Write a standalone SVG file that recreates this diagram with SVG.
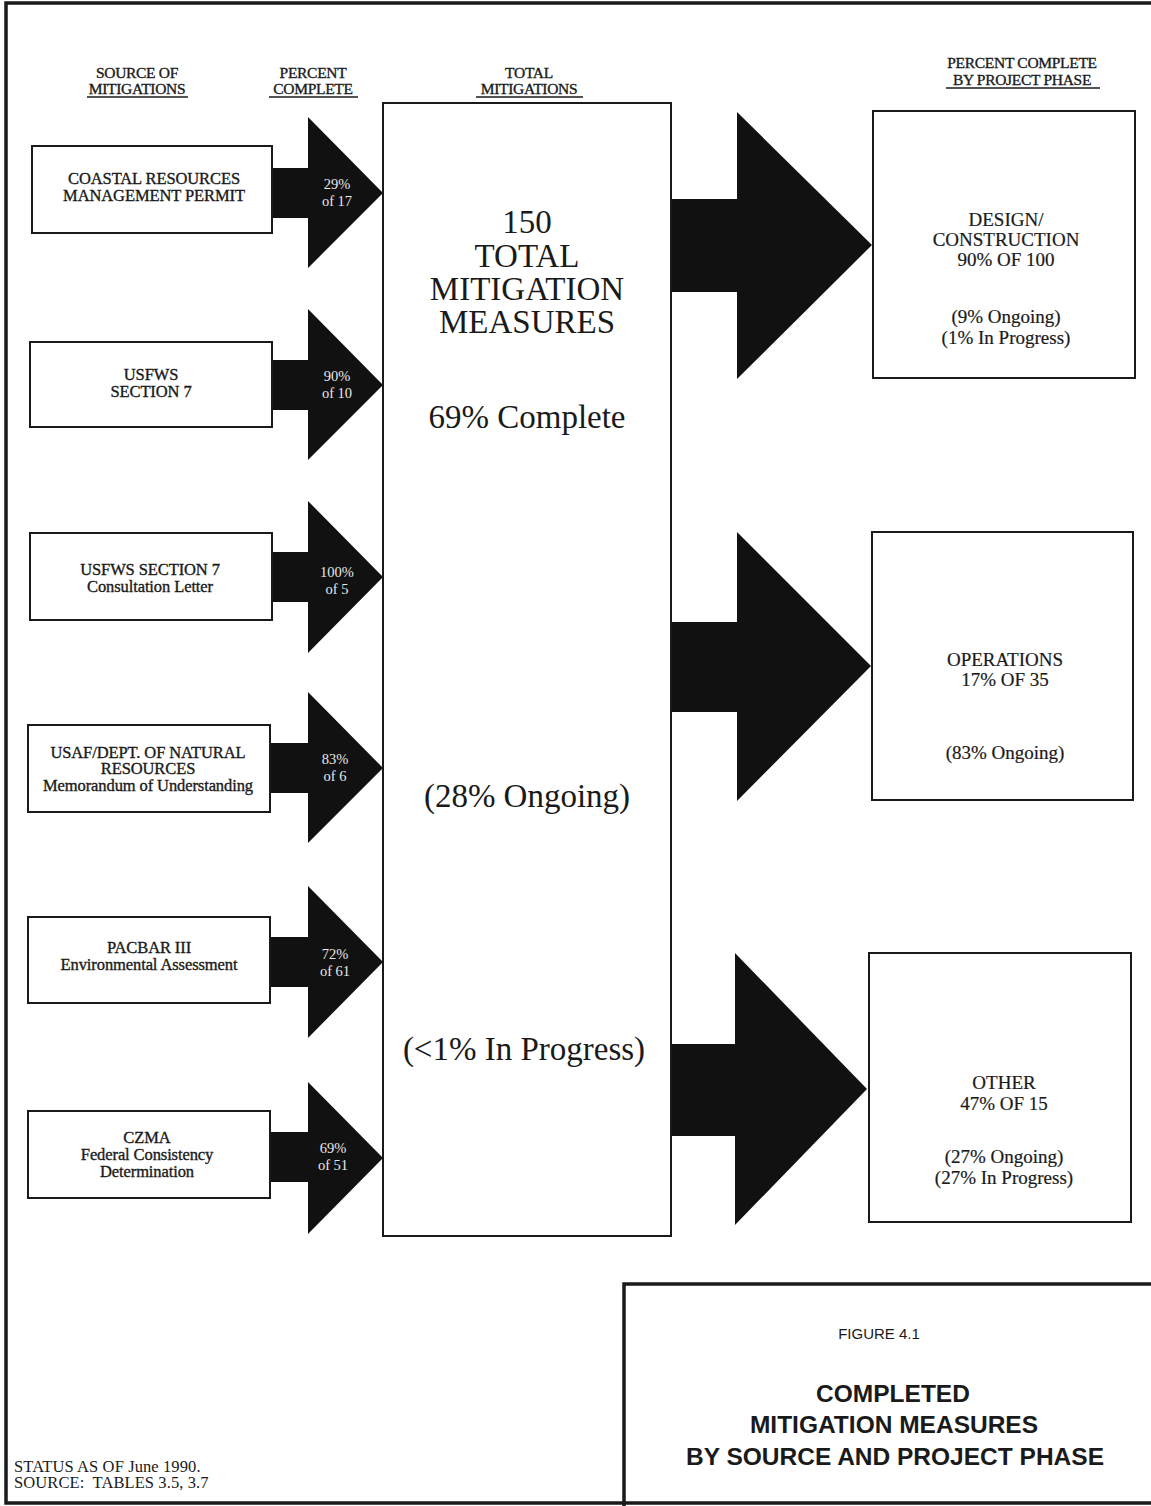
<svg xmlns="http://www.w3.org/2000/svg" width="1151" height="1506" viewBox="0 0 1151 1506">
<style>
.bg{fill:#ffffff}
.frame{fill:none;stroke:#1a1a1a;stroke-width:3.5}
.box{fill:#ffffff;stroke:#1a1a1a;stroke-width:2}
.arrow{fill:#111111;stroke:none}
.t{font-family:"Liberation Serif","Times New Roman",serif;fill:#1a1a1a;text-anchor:middle}
.hd{font-size:15.5px;letter-spacing:-0.3px;stroke:#1a1a1a;stroke-width:0.35px}
.src{font-size:16.5px;letter-spacing:-0.1px;stroke:#1a1a1a;stroke-width:0.35px}
.pct{font-size:14.5px;fill:#e8e8e8}
.big{font-size:33px}
.ph{font-size:19px;stroke:#1a1a1a;stroke-width:0.2px}
.ul{stroke:#1a1a1a;stroke-width:1.5}
.fig{font-family:"Liberation Sans",Arial,sans-serif;fill:#1a1a1a;text-anchor:middle}
.note{font-family:"Liberation Serif","Times New Roman",serif;fill:#1a1a1a;font-size:16.5px;letter-spacing:0.1px;white-space:pre}
</style>
<rect class="bg" x="0" y="0" width="1151" height="1506"/>
<rect class="frame" x="6" y="3" width="1170" height="1500"/>

<g id="headers">
<text class="t hd" x="137" y="78">SOURCE OF</text>
<text class="t hd" x="137" y="94">MITIGATIONS</text>
<line class="ul" x1="87" y1="97" x2="188" y2="97"/>
<text class="t hd" x="313" y="78">PERCENT</text>
<text class="t hd" x="313" y="94">COMPLETE</text>
<line class="ul" x1="269" y1="97" x2="358" y2="97"/>
<text class="t hd" x="529" y="78">TOTAL</text>
<text class="t hd" x="529" y="94">MITIGATIONS</text>
<line class="ul" x1="476" y1="97" x2="583" y2="97"/>
<text class="t hd" x="1022" y="68">PERCENT COMPLETE</text>
<text class="t hd" x="1022" y="85">BY PROJECT PHASE</text>
<line class="ul" x1="946" y1="88" x2="1100" y2="88"/>
</g>

<g id="connectors">
<polygon class="arrow" points="271,168 308,168 308,117 383,193 308,268 308,218 271,218"/>
<polygon class="arrow" points="271,360 308,360 308,309 383,385 308,460 308,410 271,410"/>
<polygon class="arrow" points="271,552 308,552 308,501 383,577 308,653 308,602 271,602"/>
<polygon class="arrow" points="269,743 308,743 308,692 383,768 308,843 308,793 269,793"/>
<polygon class="arrow" points="269,937 308,937 308,886 383,962 308,1038 308,987 269,987"/>
<polygon class="arrow" points="269,1132 308,1132 308,1082 383,1158 308,1234 308,1182 269,1182"/>
<polygon class="arrow" points="671,199 737,199 737,112 872,245 737,379 737,292 671,292"/>
<polygon class="arrow" points="671,622 737,622 737,532 871,666 737,801 737,712 671,712"/>
<polygon class="arrow" points="669,1044 735,1044 735,953 867,1089 735,1225 735,1136 669,1136"/>
<text class="t pct" x="337" y="189">29%</text>
<text class="t pct" x="337" y="206">of 17</text>
<text class="t pct" x="337" y="381">90%</text>
<text class="t pct" x="337" y="398">of 10</text>
<text class="t pct" x="337" y="577">100%</text>
<text class="t pct" x="337" y="594">of 5</text>
<text class="t pct" x="335" y="764">83%</text>
<text class="t pct" x="335" y="781">of 6</text>
<text class="t pct" x="335" y="959">72%</text>
<text class="t pct" x="335" y="976">of 61</text>
<text class="t pct" x="333" y="1153">69%</text>
<text class="t pct" x="333" y="1170">of 51</text>
</g>

<g id="src-coastal">
<rect class="box" x="32" y="146" width="240" height="87"/>
<text class="t src" x="154" y="184">COASTAL RESOURCES</text>
<text class="t src" x="154" y="201">MANAGEMENT PERMIT</text>
</g>
<g id="src-usfws7">
<rect class="box" x="30" y="342" width="242" height="85"/>
<text class="t src" x="151" y="380">USFWS</text>
<text class="t src" x="151" y="397">SECTION 7</text>
</g>
<g id="src-usfws7-letter">
<rect class="box" x="30" y="533" width="242" height="87"/>
<text class="t src" x="150" y="575">USFWS SECTION 7</text>
<text class="t src" x="150" y="592">Consultation Letter</text>
</g>
<g id="src-usaf">
<rect class="box" x="28" y="725" width="242" height="87"/>
<text class="t src" x="148" y="758">USAF/DEPT. OF NATURAL</text>
<text class="t src" x="148" y="774">RESOURCES</text>
<text class="t src" x="148" y="791">Memorandum of Understanding</text>
</g>
<g id="src-pacbar">
<rect class="box" x="28" y="917" width="242" height="86"/>
<text class="t src" x="149" y="953">PACBAR III</text>
<text class="t src" x="149" y="970">Environmental Assessment</text>
</g>
<g id="src-czma">
<rect class="box" x="28" y="1111" width="242" height="87"/>
<text class="t src" x="147" y="1143">CZMA</text>
<text class="t src" x="147" y="1160">Federal Consistency</text>
<text class="t src" x="147" y="1177">Determination</text>
</g>

<g id="total">
<rect class="box" x="383" y="103" width="288" height="1133"/>
<text class="t big" x="527" y="233">150</text>
<text class="t big" x="527" y="267">TOTAL</text>
<text class="t big" x="527" y="300">MITIGATION</text>
<text class="t big" x="527" y="333">MEASURES</text>
<text class="t big" x="527" y="428">69% Complete</text>
<text class="t big" x="527" y="807">(28% Ongoing)</text>
<text class="t big" x="524" y="1060">(&lt;1% In Progress)</text>
</g>

<g id="phase-design">
<rect class="box" x="873" y="111" width="262" height="267"/>
<text class="t ph" x="1006" y="226">DESIGN/</text>
<text class="t ph" x="1006" y="246">CONSTRUCTION</text>
<text class="t ph" x="1006" y="266">90% OF 100</text>
<text class="t ph" x="1006" y="323">(9% Ongoing)</text>
<text class="t ph" x="1006" y="344">(1% In Progress)</text>
</g>
<g id="phase-operations">
<rect class="box" x="872" y="532" width="261" height="268"/>
<text class="t ph" x="1005" y="666">OPERATIONS</text>
<text class="t ph" x="1005" y="686">17% OF 35</text>
<text class="t ph" x="1005" y="759">(83% Ongoing)</text>
</g>
<g id="phase-other">
<rect class="box" x="869" y="953" width="262" height="269"/>
<text class="t ph" x="1004" y="1089">OTHER</text>
<text class="t ph" x="1004" y="1110">47% OF 15</text>
<text class="t ph" x="1004" y="1163">(27% Ongoing)</text>
<text class="t ph" x="1004" y="1184">(27% In Progress)</text>
</g>

<g id="figure-title">
<rect class="frame" x="624" y="1284" width="600" height="300"/>
<text class="fig" x="879" y="1339" font-size="15px">FIGURE 4.1</text>
<text class="fig" x="893" y="1402" font-size="24.5px" font-weight="bold">COMPLETED</text>
<text class="fig" x="894" y="1433" font-size="24.5px" font-weight="bold">MITIGATION MEASURES</text>
<text class="fig" x="895" y="1465" font-size="24.5px" font-weight="bold">BY SOURCE AND PROJECT PHASE</text>
</g>

<g id="note">
<text class="note" x="14" y="1472">STATUS AS OF June 1990.</text>
<text class="note" x="14" y="1488" xml:space="preserve">SOURCE:  TABLES 3.5, 3.7</text>
</g>
</svg>
